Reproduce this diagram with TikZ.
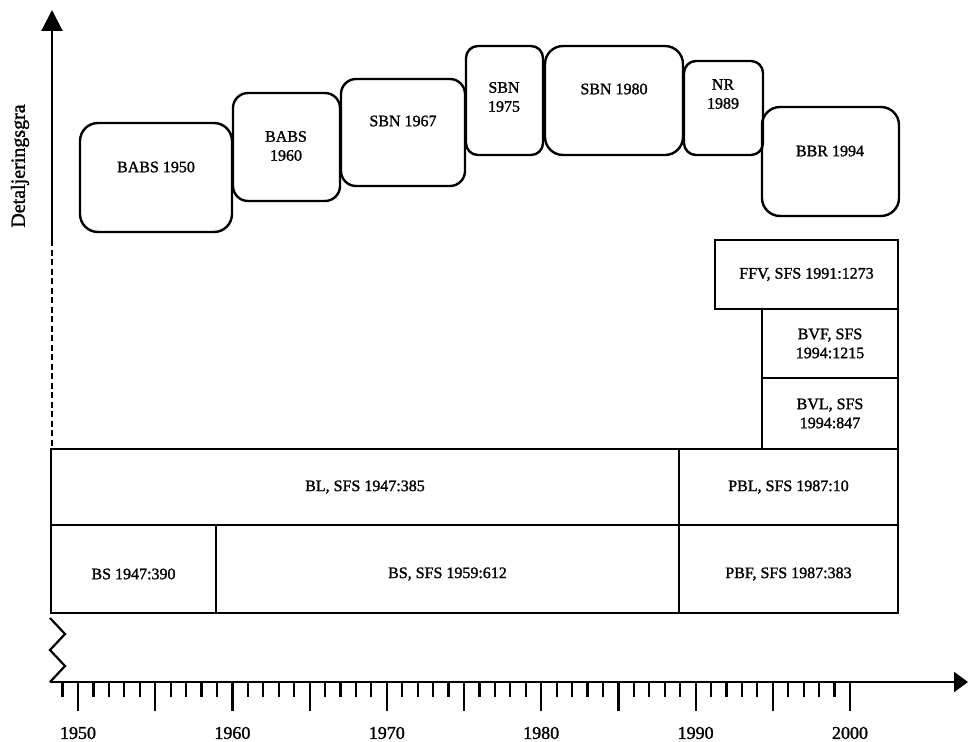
\documentclass[tikz,border=0pt]{standalone}
\usepackage{fontspec}
\setmainfont{Liberation Serif}
\newfontfamily\heavyfont{Liberation Serif}[BoldFont={Liberation Serif}, BoldFeatures={FakeBold=1.4}]
\usetikzlibrary{arrows.meta}
\newcommand\rbx[6]{\node[rbox=#6, minimum width={#4-#2}, minimum height={#5-#3}] (#1) at (#2,#3) {};}
\newcommand\sbx[5]{\node[sbox, minimum width={#4-#2}, minimum height={#5-#3}] (#1) at (#2,#3) {};}
\begin{document}
\begin{tikzpicture}[x=1pt,y=-1pt,
  rbox/.style={draw, line width=2.4pt, rounded corners=#1, inner sep=0pt, outer sep=0pt, anchor=north west},
  sbox/.style={draw, line width=2pt, inner sep=0pt, outer sep=0pt, anchor=north west},
  lbl/.style={font=\heavyfont\bfseries\fontsize{16}{19}\selectfont, align=center, inner sep=0pt},
  yrlbl/.style={font=\heavyfont\bfseries\fontsize{18}{20}\selectfont, inner sep=0pt},
  axis/.style={line width=2.2pt},
  tickmark/.style={line width=2.2pt}]
\useasboundingbox (0,0) rectangle (968,741);
% rounded boxes
\rbx{babsA}{80}{123}{232}{232}{18pt}
\rbx{babsB}{233}{93}{340}{201}{15pt}
\rbx{sbnA}{341}{79}{465}{186}{15pt}
\rbx{sbnB}{466}{46}{543}{155}{12pt}
\rbx{sbnC}{545}{46}{683}{155}{18pt}
\rbx{nr}{684}{61}{763}{155}{12pt}
\rbx{bbr}{762}{107}{899}{216}{18pt}
\node[lbl] (tbabsA) at (156,167) {BABS 1950};
\node[lbl] (tbabsB) at (286,146) {BABS\\1960};
\node[lbl] (tsbnA) at (403,121) {SBN 1967};
\node[lbl] (tsbnB) at (504,97) {SBN\\1975};
\node[lbl] (tsbnC) at (614,89) {SBN 1980};
\node[lbl] (tnr) at (723,94) {NR\\1989};
\node[lbl] (tbbr) at (830,151) {BBR 1994};
% square boxes
\sbx{ffv}{715}{240}{898}{309}
\sbx{bvf}{762}{309}{898}{378}
\sbx{bvl}{762}{378}{898}{449}
\sbx{bl}{51}{449}{679}{525}
\sbx{pbl}{679}{449}{898}{525}
\sbx{bsA}{51}{525}{216}{613}
\sbx{bsB}{216}{525}{679}{613}
\sbx{pbf}{679}{525}{898}{613}
\node[lbl] at (ffv.center) {FFV, SFS 1991:1273};
\node[lbl] at (bvf.center) {BVF, SFS\\1994:1215};
\node[lbl] at (bvl.center) {BVL, SFS\\1994:847};
\node[lbl] at (bl.center) {BL, SFS 1947:385};
\node[lbl] at (pbl.center) {PBL, SFS 1987:10};
\node[lbl] at ([yshift=-5pt]bsA.center) {BS 1947:390};
\node[lbl] at ([yshift=-5pt]bsB.center) {BS, SFS 1959:612};
\node[lbl] at ([yshift=-5pt]pbf.center) {PBF, SFS 1987:383};
% y axis
\coordinate (ysolid) at (52,240);
\coordinate (ytop) at (52,10);
\coordinate (ybot) at (52,449);
\draw[axis, -{Triangle[length=21pt,width=21pt]}] (ysolid) -- (ytop);
\draw[axis, dash pattern=on 6pt off 3.5pt] (ysolid) -- (ybot);
\node[yrlbl, font=\heavyfont\bfseries\fontsize{20}{22}\selectfont, rotate=90] (ylab) at (20,166) {Detaljeringsgra};
% zigzag and x axis
\draw[axis, line join=miter] (50,618) -- (65,634) -- (50,650) -- (65,666) -- (50,682);
\coordinate (xstart) at (50,682);
\coordinate (xend) at (968,682);
\draw[axis, -{Triangle[length=14pt,width=20pt]}] (xstart) -- (xend);
\foreach \yr in {1949,...,2000}{
  \pgfmathsetmacro\xx{78+(\yr-1950)*15.44}
  \pgfmathsetmacro\yy{mod(\yr,5)==0 ? 711 : 697}
  \draw[tickmark] (\xx,682) -- (\xx,\yy);
}
\foreach \yr in {1950,1960,...,2000}{
  \pgfmathsetmacro\xx{78+(\yr-1950)*15.44}
  \node[yrlbl] at (\xx,733) {\yr};
}
\end{tikzpicture}
\end{document}
